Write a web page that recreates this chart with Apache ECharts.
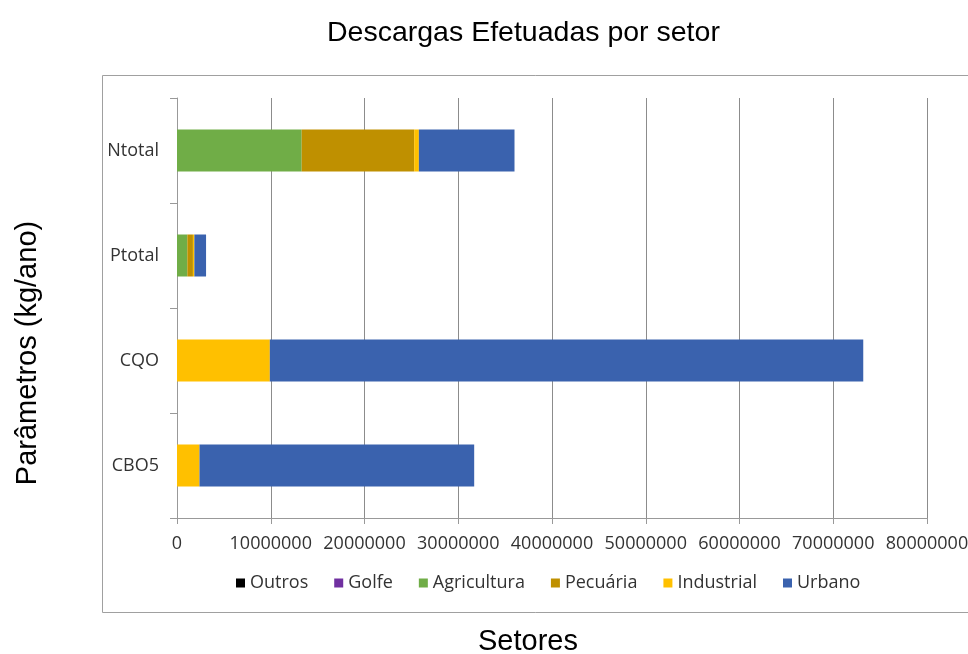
<!DOCTYPE html>
<html><head><meta charset="utf-8">
<script src="https://cdn.jsdelivr.net/npm/echarts@6/dist/echarts.min.js"></script>
<style>html,body{margin:0;padding:0;background:#fff}#c{width:968px;height:654px}</style>
</head><body><div id="c"></div>
<script>
// Categories top-to-bottom
const categories = ['Ntotal', 'Ptotal', 'CQO', 'CBO5'];
const seriesNames = ['Outros', 'Golfe', 'Agricultura', 'Pecuária', 'Industrial', 'Urbano'];
const outros      = [0, 0, 0, 0];
const golfe       = [0, 0, 0, 0];
const agricultura = [13300000, 1100000, 0, 0];
const pecuaria    = [12000000, 600000, 0, 0];
const industrial  = [500000, 150000, 9900000, 2400000];
const urbano      = [10200000, 1250000, 63300000, 29300000];
const xTicks = [0, 10000000, 20000000, 30000000, 40000000, 50000000, 60000000, 70000000, 80000000];

const colors = ['#000000', '#7030A0', '#70AD47', '#BF9000', '#FFC000', '#3A62AE'];
const values = [outros, golfe, agricultura, pecuaria, industrial, urbano];

const chart = echarts.init(document.getElementById('c'), null, {renderer: 'canvas'});
const labelFont = "'Open Sans',sans-serif";
chart.setOption({
  animation: false,
  backgroundColor: '#fff',
  title: {
    text: 'Descargas Efetuadas por setor',
    left: 322, top: 14,
    textStyle: {fontFamily: 'Liberation Sans', fontSize: 28.5, fontWeight: 'normal', color: '#000'}
  },
  graphic: [
    {type: 'rect', shape: {x: 102.5, y: 75.5, width: 880, height: 537}, style: {fill: 'none', stroke: '#a0a0a0', lineWidth: 1}, z: -1},
    {type: 'text', x: 28, y: 353, rotation: Math.PI / 2, style: {text: 'Parâmetros (kg/ano)', font: "29px 'Liberation Sans'", fill: '#000', align: 'center', verticalAlign: 'middle'}},
    {type: 'text', x: 528, y: 642, style: {text: 'Setores', font: "29px 'Liberation Sans'", fill: '#000', align: 'center', verticalAlign: 'middle'}}
  ],
  legend: {
    data: seriesNames,
    left: 231, top: 569,
    itemWidth: 9, itemHeight: 9, itemGap: 26,
    icon: 'rect',
    textStyle: {fontFamily: labelFont, fontSize: 18, color: '#333', padding: [0, 0, 0, 0]}
  },
  grid: {left: 177, right: 41, top: 98, bottom: 136, containLabel: false, outerBoundsMode: 'none'},
  xAxis: {
    type: 'value', min: 0, max: 80000000, interval: 10000000,
    axisLine: {show: true, lineStyle: {color: '#999'}},
    axisTick: {show: true, length: 6, lineStyle: {color: '#999'}},
    splitLine: {show: true, lineStyle: {color: '#8c8c8c', width: 1}},
    axisLabel: {fontFamily: labelFont, fontSize: 18, color: '#333', margin: 17, showMaxLabel: true,
      formatter: v => String(v)}
  },
  yAxis: {
    type: 'category', data: categories, inverse: true,
    axisLine: {show: true, lineStyle: {color: '#999'}},
    axisTick: {show: true, length: 7, lineStyle: {color: '#999'}},
    axisLabel: {fontFamily: labelFont, fontSize: 18, color: '#333', margin: 18}
  },
  series: seriesNames.map((n, i) => ({
    name: n, type: 'bar', stack: 'total', barWidth: '40%',
    itemStyle: {color: colors[i]},
    data: values[i]
  }))
});
</script></body></html>
